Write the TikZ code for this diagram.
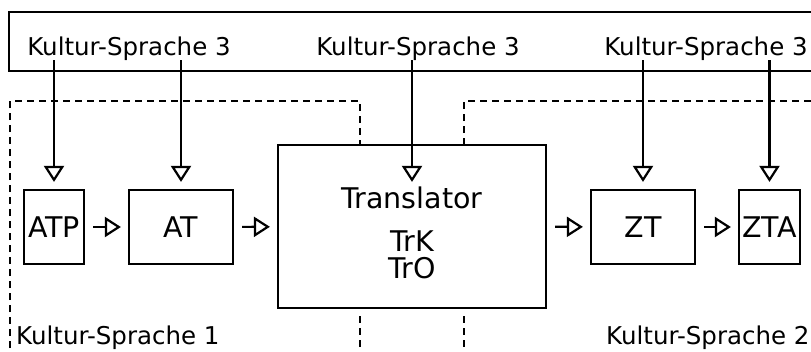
\documentclass[tikz,border=0pt]{standalone}
\usepackage{fontspec}
\setmainfont{DejaVu Sans}
\usetikzlibrary{arrows.meta}

\tikzset{
  labeltext/.style={font=\fontsize{24.5}{27}\selectfont,inner sep=0pt},
  boxtext/.style={font=\fontsize{28.5}{30}\selectfont,inner sep=0pt},
  unitbox/.style={boxtext,draw,line width=2.2pt,minimum height=74pt},
  flow/.style={-{Triangle[open,length=16pt,width=20pt]},line width=2.2pt},
  border/.style={line width=2pt,dash pattern=on 7pt off 5pt}
}

\begin{document}
\begin{tikzpicture}[x=1pt,y=-1pt]
  \useasboundingbox (0,0) rectangle (811,351);
  % culture 3 frame on top
  \draw[line width=2.2pt] (9,12) rectangle (830,71);
  \node[labeltext,anchor=base] (lab1) at (129,55) {Kultur-Sprache 3};
  \node[labeltext,anchor=base] (lab2) at (418,55) {Kultur-Sprache 3};
  \node[labeltext,anchor=base] (lab3) at (706,55) {Kultur-Sprache 3};

  % culture 1 and 2 regions
  \draw[border] (10,360) -- (10,101) -- (360,101) -- (360,145);
  \draw[border] (360,316) -- (360,360);
  \draw[border] (464,145) -- (464,101) -- (830,101);
  \draw[border] (464,316) -- (464,360);
  \node[labeltext,anchor=west] (lab4) at (16,338) {Kultur-Sprache 1};
  \node[labeltext,anchor=west] (lab5) at (606,338) {Kultur-Sprache 2};

  % text chain
  \node[unitbox,minimum width=60pt] (atp) at (54,227) {ATP};
  \node[unitbox,minimum width=104pt] (at) at (181,227) {AT};
  \node[draw,line width=2.2pt,minimum width=268pt,minimum height=163pt] (tr) at (412,226.5) {};
  \node[boxtext] (trtitle) at (412,198) {Translator};
  \node[boxtext] (trk) at (412,241) {TrK};
  \node[boxtext] (tro) at (412,268) {TrO};
  \node[unitbox,minimum width=104pt] (zt) at (643,227) {ZT};
  \node[unitbox,minimum width=61pt] (zta) at (769.5,227) {ZTA};

  \foreach \a/\b in {atp/at,at/tr,tr/zt,zt/zta}
    \draw[flow,shorten <=8pt,shorten >=7pt] (\a) -- (\b);

  % influence of culture 3
  \draw[flow,shorten >=7pt] (lab1.south -| atp) -- (atp.north);
  \draw[flow,shorten >=7pt] (lab1.south -| at) -- (at.north);
  \draw[flow,shorten >=7pt] (lab2.south -| tr) -- (tr |- atp.north);
  \draw[flow,shorten >=7pt] (lab3.south -| zt) -- (zt.north);
  \draw[flow,shorten >=7pt] (lab3.south -| zta) -- (zta.north);
\end{tikzpicture}
\end{document}
